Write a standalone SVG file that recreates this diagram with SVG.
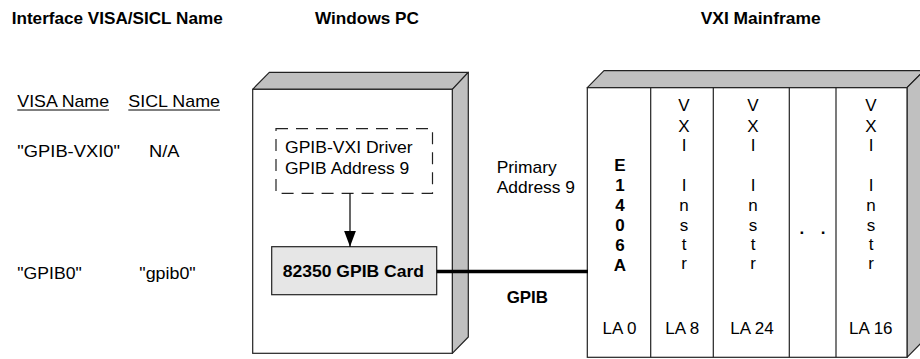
<svg xmlns="http://www.w3.org/2000/svg" width="920" height="359" viewBox="0 0 920 359">
<style>
.t{font-family:"Liberation Sans",Arial,Helvetica,sans-serif;font-size:17px;fill:#000}
.b{font-weight:bold}
.m{text-anchor:middle}
.face{fill:#fff;stroke:#222;stroke-width:1.2}
.shade{fill:#c0c0c0;stroke:#222;stroke-width:1.2;stroke-linejoin:round}
.div{stroke:#222;stroke-width:1.2;fill:none}
</style>
<defs>
<marker id="ah" viewBox="0 0 16 12" refX="16" refY="6" markerWidth="16" markerHeight="12" markerUnits="userSpaceOnUse" orient="auto">
<path d="M0,0 L16,6 L0,12 Z" fill="#000"/>
</marker>
</defs>
<rect width="920" height="359" fill="#fff"/>

<g id="headers">
<text class="t b" x="11.7" y="23.5" textLength="211" lengthAdjust="spacingAndGlyphs">Interface VISA/SICL Name</text>
<text class="t b" x="315" y="23.5" textLength="104" lengthAdjust="spacingAndGlyphs">Windows PC</text>
<text class="t b" x="700.7" y="23.5" textLength="120" lengthAdjust="spacingAndGlyphs">VXI Mainframe</text>
</g>

<g id="names">
<text class="t" x="17.3" y="107" textLength="91.7" lengthAdjust="spacingAndGlyphs">VISA Name</text>
<line x1="17.3" y1="110" x2="109" y2="110" stroke="#000" stroke-width="1"/>
<text class="t" x="128.3" y="107" textLength="91.7" lengthAdjust="spacingAndGlyphs">SICL Name</text>
<line x1="128.3" y1="110" x2="220" y2="110" stroke="#000" stroke-width="1"/>
<text class="t" x="17.3" y="157" textLength="102.7" lengthAdjust="spacingAndGlyphs">"GPIB-VXI0"</text>
<text class="t" x="149" y="157" textLength="30.5" lengthAdjust="spacingAndGlyphs">N/A</text>
<text class="t" x="17.3" y="279" textLength="64.4" lengthAdjust="spacingAndGlyphs">"GPIB0"</text>
<text class="t" x="139.3" y="279" textLength="56.4" lengthAdjust="spacingAndGlyphs">"gpib0"</text>
</g>

<g id="pc">
<polygon class="shade" points="252.7,89.3 269.3,72.3 468.3,72.3 452.3,89.3"/>
<polygon class="shade" points="452.3,89.3 468.3,72.3 468.3,337 452.3,353.3"/>
<rect class="face" x="252.7" y="89.3" width="199.6" height="264"/>
</g>

<g id="driver">
<rect x="276" y="128.7" width="156.5" height="64.6" fill="none" stroke="#222" stroke-width="1.2" stroke-dasharray="12,8"/>
<text class="t" x="285" y="152.7" textLength="127.7" lengthAdjust="spacingAndGlyphs">GPIB-VXI Driver</text>
<text class="t" x="285" y="174" textLength="124.3" lengthAdjust="spacingAndGlyphs">GPIB Address 9</text>
</g>

<g id="card">
<rect x="271.7" y="246.7" width="165" height="48" fill="#e6e6e6" stroke="#222" stroke-width="1.2"/>
<text class="t b" x="282.7" y="277" textLength="141.3" lengthAdjust="spacingAndGlyphs">82350 GPIB Card</text>
</g>

<g id="mainframe">
<polygon class="shade" points="587.3,87.7 604,70.7 924,70.7 907,87.7"/>
<polygon class="shade" points="907,87.7 924,70.7 924,340 907,357.3"/>
<rect class="face" x="587.3" y="87.7" width="319.7" height="269.6"/>
<line class="div" x1="650.7" y1="87.7" x2="650.7" y2="357.3" stroke-width="2"/>
<line class="div" x1="713.3" y1="87.7" x2="713.3" y2="357.3"/>
<line class="div" x1="789.3" y1="87.7" x2="789.3" y2="357.3"/>
<line class="div" x1="836" y1="87.7" x2="836" y2="357.3"/>
</g>

<g id="slot-e1406a">
<text class="t b m" x="620" y="171">E</text>
<text class="t b m" x="620" y="191">1</text>
<text class="t b m" x="620" y="211">4</text>
<text class="t b m" x="620" y="231">0</text>
<text class="t b m" x="620" y="251">6</text>
<text class="t b m" x="620" y="271">A</text>
<text class="t m" x="619.5" y="334">LA 0</text>
</g>

<g id="slot-la8">
<text class="t m" x="684" y="111">V</text>
<text class="t m" x="684" y="131.5">X</text>
<text class="t m" x="684" y="151">I</text>
<text class="t m" x="684" y="191">I</text>
<text class="t m" x="684" y="211">n</text>
<text class="t m" x="684" y="230.5">s</text>
<text class="t m" x="684" y="250">t</text>
<text class="t m" x="684" y="269">r</text>
<text class="t m" x="682.3" y="334">LA 8</text>
</g>

<g id="slot-la24">
<text class="t m" x="753" y="111">V</text>
<text class="t m" x="753" y="131.5">X</text>
<text class="t m" x="753" y="151">I</text>
<text class="t m" x="753" y="191">I</text>
<text class="t m" x="753" y="211">n</text>
<text class="t m" x="753" y="230.5">s</text>
<text class="t m" x="753" y="250">t</text>
<text class="t m" x="753" y="269">r</text>
<text class="t m" x="752" y="334">LA 24</text>
</g>

<g id="slot-dots">
<text class="t b" x="799.5" y="234" textLength="26" lengthAdjust="spacing">. .</text>
</g>

<g id="slot-la16">
<text class="t m" x="871" y="111">V</text>
<text class="t m" x="871" y="131.5">X</text>
<text class="t m" x="871" y="151">I</text>
<text class="t m" x="871" y="191">I</text>
<text class="t m" x="871" y="211">n</text>
<text class="t m" x="871" y="230.5">s</text>
<text class="t m" x="871" y="250">t</text>
<text class="t m" x="871" y="269">r</text>
<text class="t m" x="870.8" y="334">LA 16</text>
</g>

<g id="connectors">
<line x1="350" y1="193.3" x2="350" y2="246.7" stroke="#000" stroke-width="1.2" marker-end="url(#ah)"/>
<line x1="436.7" y1="271.5" x2="588" y2="271.5" stroke="#000" stroke-width="3.5"/>
<text class="t" x="496.7" y="172.5" textLength="60" lengthAdjust="spacingAndGlyphs">Primary</text>
<text class="t" x="496.7" y="193" textLength="78.3" lengthAdjust="spacingAndGlyphs">Address 9</text>
<text class="t b" x="506.7" y="302.7" textLength="41.3" lengthAdjust="spacingAndGlyphs">GPIB</text>
</g>
</svg>
